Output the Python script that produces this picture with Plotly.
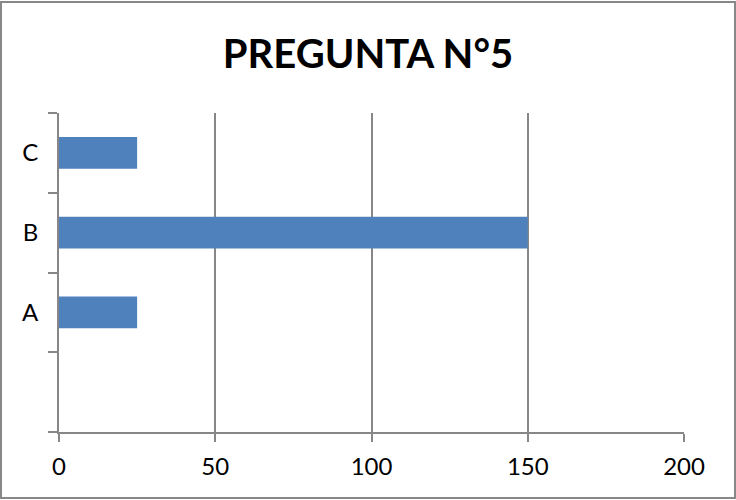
import plotly.graph_objects as go

# Respuestas a la pregunta 5
categories = ["A", "B", "C"]
values = [25, 150, 25]
axis_categories = [" ", "A", "B", "C"]
x_ticks = [0, 50, 100, 150, 200]

W, H = 736, 500
ML, MR, MT, MB = 59, 52, 113, 68
PW, PH = W - ML - MR, H - MT - MB

FONT = "Lato"
GRID = "#878787"

fig = go.Figure(
    go.Bar(
        x=values,
        y=categories,
        orientation="h",
        marker=dict(color="#4F81BD", line=dict(width=0)),
    )
)


def px_x(p):
    return (p - ML) / PW


def px_y(p):
    return (H - MB - p) / PH


fig.update_layout(
    width=W,
    height=H,
    margin=dict(l=ML, r=MR, t=MT, b=MB, pad=0),
    paper_bgcolor="white",
    plot_bgcolor="white",
    bargap=0.6,
    showlegend=False,
    title=dict(
        text="<b>PREGUNTA N°5</b>",
        x=0.5,
        xanchor="center",
        y=1 - 54 / H,
        yanchor="middle",
        font=dict(family=FONT, size=40, color="black"),
    ),
    xaxis=dict(
        range=[0, 200],
        tickvals=x_ticks,
        showgrid=True,
        gridcolor=GRID,
        gridwidth=2,
        zeroline=False,
        showline=True,
        linecolor=GRID,
        linewidth=2,
        ticks="outside",
        ticklen=8,
        tickwidth=2,
        tickcolor=GRID,
        ticklabelstandoff=4,
        tickfont=dict(family=FONT, size=24, color="black"),
        fixedrange=True,
    ),
    yaxis=dict(
        type="category",
        categoryorder="array",
        categoryarray=axis_categories,
        range=[-0.5, 3.5],
        tickson="boundaries",
        showgrid=False,
        zeroline=False,
        showline=True,
        linecolor=GRID,
        linewidth=2,
        ticks="outside",
        ticklen=9,
        tickwidth=2,
        tickcolor=GRID,
        ticklabelstandoff=14,
        tickfont=dict(family=FONT, size=24, color="black"),
        fixedrange=True,
    ),
    shapes=[
        dict(
            type="rect",
            xref="paper",
            yref="paper",
            x0=px_x(1),
            x1=px_x(735),
            y0=px_y(498),
            y1=px_y(2),
            line=dict(color="#888888", width=2),
            fillcolor="rgba(0,0,0,0)",
            layer="above",
        )
    ],
)

fig.write_html("out.html")
